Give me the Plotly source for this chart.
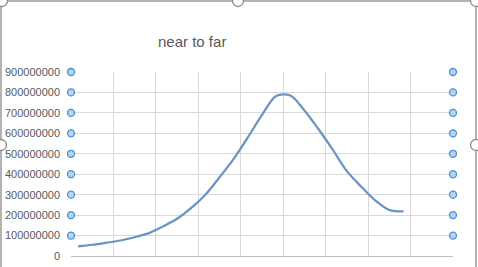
import plotly.graph_objects as go

# Data
categories = list(range(1, 28))          # 27 category slots on the x axis
values = [47e6, 55e6, 65e6, 76e6, 92e6, 112e6, 145e6, 182e6, 235e6, 300e6,
          385e6, 475e6, 580e6, 690e6, 783e6, 785e6, 712e6, 620e6, 520e6,
          415e6, 340e6, 272e6, 225e6, 218e6]
y_ticks = [0, 100000000, 200000000, 300000000, 400000000, 500000000,
           600000000, 700000000, 800000000, 900000000]
title_text = "near to far"

W, H = 478, 267
L, R, T, B = 71, 25, 72, 11
pw, ph = W - L - R, H - T - B

def px(x):
    return (x - L) / pw

def py(y):
    return (H - B - y) / ph

fig = go.Figure()
fig.add_trace(go.Scatter(
    x=categories[:len(values)], y=values, mode="lines",
    line=dict(color="#6893c2", width=2.2, shape="spline", smoothing=0.9),
    hoverinfo="skip", showlegend=False))

# selection handles on the value axis (both sides)
handle_y = y_ticks[1:]
for xv in (0.5, 27.5):
    fig.add_trace(go.Scatter(
        x=[xv] * len(handle_y), y=handle_y, mode="markers",
        marker=dict(size=7, color="#b4d4f2", line=dict(color="#4a8fd0", width=1.3)),
        cliponaxis=False, hoverinfo="skip", showlegend=False))

fig.update_xaxes(range=[0.5, 27.5], tickvals=[0.5 + 3 * i for i in range(10)],
                 showticklabels=False, showgrid=True, gridcolor="#d9d9d9", gridwidth=1,
                 zeroline=False, showline=True, linecolor="#bfbfbf", linewidth=1,
                 ticks="", automargin=False)
fig.update_yaxes(range=[0, 900000000], tickvals=y_ticks,
                 ticktext=[str(v) for v in y_ticks],
                 showgrid=True, gridcolor="#d9d9d9", gridwidth=1, zeroline=False,
                 showline=False, ticks="", ticklabelstandoff=10, automargin=False,
                 tickfont=dict(family="Liberation Sans, Arial", size=11, color="#595959"))

shapes = []
# chart border (selected chart frame)
shapes.append(dict(type="rect", xref="paper", yref="paper",
                   x0=px(1), x1=px(476), y0=py(1), y1=py(300),
                   line=dict(color="#9a9a9a", width=1.5), fillcolor="rgba(0,0,0,0)", layer="above"))
# frame handles
for cx, cy in [(2, 1), (238, 1), (476, 1), (476, 145), (1, 145)]:
    r = 5.5
    shapes.append(dict(type="circle", xref="paper", yref="paper",
                       x0=px(cx - r), x1=px(cx + r), y0=py(cy + r), y1=py(cy - r),
                       line=dict(color="#8a8a8a", width=1.3), fillcolor="white", layer="above"))

fig.update_layout(
    width=W, height=H, margin=dict(l=L, r=R, t=T, b=B, autoexpand=False),
    paper_bgcolor="white", plot_bgcolor="white",
    shapes=shapes,
    annotations=[dict(text=title_text, xref="paper", yref="paper",
                      x=px(192), y=py(42), xanchor="center", yanchor="middle",
                      showarrow=False,
                      font=dict(family="Liberation Sans, Arial", size=15, color="#595959"))],
)

fig.write_html("out.html")
